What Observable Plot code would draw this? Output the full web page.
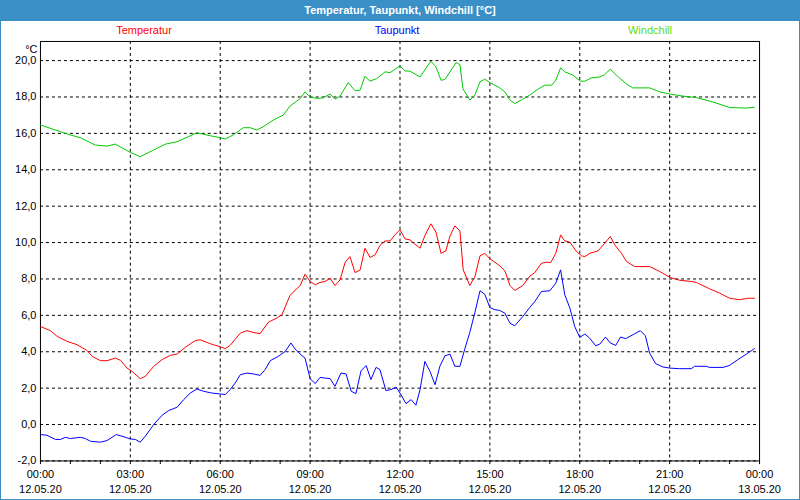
<!DOCTYPE html>
<html>
<head>
<meta charset="utf-8">
<script src="https://cdn.jsdelivr.net/npm/d3@7"></script>
<script src="https://cdn.jsdelivr.net/npm/@observablehq/plot@0.6"></script>
<style>
  html, body { margin: 0; padding: 0; background: #fff; }
  #frame { position: relative; width: 800px; height: 500px; box-sizing: border-box;
           border: 1px solid #3b8fc7; background: #fff; overflow: hidden;
           font-family: "Liberation Sans", Arial, sans-serif; }
  #title { position: absolute; left: -1px; top: -1px; width: 800px; height: 21px; background: #3b8fc7;
           color: #fff; font-weight: bold; font-size: 11px; line-height: 21px; text-align: center; }
  .leg { position: absolute; top: 23px; font-size: 11px; transform: translateX(-50%); white-space: nowrap; }
  #chart { position: absolute; left: -1px; top: 19px; }
</style>
</head>
<body>
<div id="frame">
  <div id="title"></div>
  <div id="chart"></div>
</div>
<script>
// ---- Data (hour of day, value in °C) ----
const seriesNames = ["Temperatur", "Taupunkt", "Windchill"];
const seriesColors = ["#ff0000", "#0000ff", "#00c800"];
const legendColors = ["#ff0000", "#0000ff", "#66dd00"];
const legendCenters = [144, 397, 650];
const titleText = "Temperatur, Taupunkt, Windchill [°C]";
const yUnit = "°C";

const temperatur = [
  [0,5.39],[0.33,5.16],[0.56,4.84],[0.89,4.57],[1.22,4.39],[1.56,4.06],[1.72,3.75],[2.0,3.51],
  [2.22,3.51],[2.5,3.65],[2.67,3.53],[2.89,3.1],[3.06,2.92],[3.33,2.52],[3.5,2.65],[3.78,3.2],
  [4.06,3.57],[4.33,3.8],[4.56,3.87],[4.83,4.24],[5.17,4.62],[5.33,4.66],[5.67,4.44],[6.06,4.24],
  [6.17,4.17],[6.33,4.35],[6.67,5.02],[6.89,5.16],[7.06,5.08],[7.33,4.99],[7.61,5.63],[7.89,5.85],
  [8.06,6.03],[8.33,7.1],[8.67,7.64],[8.83,8.26],[9.0,7.86],[9.17,7.68],[9.33,7.81],[9.5,7.86],
  [9.67,8.04],[9.83,7.64],[10.0,7.95],[10.17,8.92],[10.33,9.23],[10.5,8.35],[10.67,8.5],[10.83,9.69],
  [11.0,9.18],[11.17,9.33],[11.33,9.84],[11.5,10.09],[11.67,10.09],[11.83,10.42],[12.0,10.7],[12.17,10.2],
  [12.33,10.15],[12.5,9.91],[12.67,9.69],[12.83,10.38],[13.03,11.03],[13.2,10.57],[13.37,9.41],[13.53,9.54],
  [13.67,10.37],[13.83,10.92],[14.0,10.64],[14.11,8.5],[14.33,7.64],[14.5,8.13],[14.67,9.27],[14.83,9.41],
  [15.0,9.11],[15.33,8.72],[15.5,8.45],[15.67,7.64],[15.83,7.37],[16.1,7.64],[16.33,8.15],[16.5,8.35],
  [16.72,8.86],[16.89,8.92],[17.03,8.9],[17.2,9.41],[17.36,10.42],[17.5,10.09],[17.67,10.02],[17.89,9.51],
  [18.06,9.27],[18.17,9.23],[18.33,9.41],[18.61,9.54],[18.83,9.96],[19.02,10.33],[19.17,9.87],[19.39,9.41],
  [19.56,8.96],[19.83,8.68],[20.33,8.68],[20.67,8.41],[21.02,8.08],[21.33,7.93],[21.72,7.86],[21.89,7.81],
  [22.33,7.46],[22.67,7.22],[23.0,6.94],[23.33,6.86],[23.61,6.94],[23.83,6.94]
];

const taupunkt = [
  [0,-0.55],[0.22,-0.59],[0.5,-0.82],[0.67,-0.82],[0.83,-0.7],[1.0,-0.77],[1.33,-0.7],[1.5,-0.77],
  [1.67,-0.92],[2.0,-0.97],[2.22,-0.88],[2.53,-0.55],[2.72,-0.64],[3.0,-0.79],[3.17,-0.82],[3.33,-0.97],
  [3.5,-0.64],[3.78,0.0],[4.06,0.51],[4.28,0.77],[4.56,0.95],[4.78,1.37],[5.0,1.73],[5.22,1.95],
  [5.44,1.83],[5.72,1.73],[6.0,1.68],[6.17,1.65],[6.33,1.92],[6.5,2.28],[6.67,2.74],[6.89,2.83],
  [7.11,2.78],[7.33,2.7],[7.5,3.02],[7.67,3.51],[7.94,3.75],[8.17,4.02],[8.36,4.48],[8.5,4.15],
  [8.67,3.87],[8.83,3.65],[9.0,2.52],[9.17,2.25],[9.33,2.59],[9.67,2.52],[9.83,2.1],[10.03,2.83],
  [10.2,2.78],[10.37,1.83],[10.53,1.7],[10.7,2.96],[10.87,3.24],[11.03,2.47],[11.2,3.14],[11.33,3.02],
  [11.53,1.87],[11.7,1.92],[11.87,2.06],[12.03,1.65],[12.2,1.15],[12.37,1.37],[12.53,1.06],[12.67,1.92],
  [12.83,3.47],[13.0,2.92],[13.17,2.19],[13.33,3.2],[13.5,3.78],[13.67,3.87],[13.83,3.2],[14.0,3.2],
  [14.17,4.2],[14.33,5.06],[14.5,6.16],[14.67,7.35],[14.83,7.16],[15.0,6.43],[15.17,6.31],[15.33,6.27],
  [15.5,6.12],[15.67,5.57],[15.83,5.43],[16.1,5.94],[16.33,6.43],[16.5,6.76],[16.72,7.31],[17.0,7.35],
  [17.2,7.77],[17.36,8.5],[17.5,7.13],[17.67,6.4],[17.83,5.39],[18.0,4.79],[18.17,4.97],[18.33,4.75],
  [18.53,4.33],[18.67,4.42],[18.86,4.81],[19.02,4.48],[19.2,4.35],[19.36,4.81],[19.53,4.72],[19.78,4.94],
  [20.02,5.16],[20.19,4.88],[20.33,3.93],[20.53,3.35],[20.78,3.16],[21.02,3.1],[21.33,3.07],[21.72,3.07],
  [21.83,3.2],[22.22,3.2],[22.33,3.14],[22.78,3.14],[23.0,3.25],[23.28,3.57],[23.56,3.87],[23.83,4.17]
];

const windchill = [
  [0,16.46],[0.67,16.09],[1.0,15.91],[1.33,15.76],[1.83,15.36],[2.22,15.3],[2.5,15.41],[3.0,14.95],
  [3.33,14.72],[3.77,15.08],[4.17,15.41],[4.56,15.54],[5.22,16.03],[5.67,15.87],[6.0,15.76],[6.17,15.69],
  [6.43,15.91],[6.77,16.31],[7.0,16.31],[7.22,16.18],[7.43,16.36],[7.77,16.73],[8.1,17.0],[8.33,17.5],
  [8.67,17.92],[8.83,18.28],[9.0,18.0],[9.22,17.92],[9.43,17.95],[9.67,18.16],[9.83,17.88],[10.0,18.05],
  [10.27,18.79],[10.5,18.34],[10.67,18.38],[10.83,19.14],[11.0,18.87],[11.22,19.01],[11.5,19.38],[11.67,19.34],
  [12.0,19.71],[12.17,19.43],[12.33,19.42],[12.67,19.1],[13.03,19.97],[13.2,19.65],[13.37,18.92],[13.5,18.96],
  [13.87,19.89],[14.0,19.78],[14.1,18.46],[14.33,17.83],[14.5,18.1],[14.67,18.83],[14.83,18.98],[15.0,18.79],
  [15.33,18.5],[15.5,18.28],[15.67,17.83],[15.83,17.64],[16.1,17.88],[16.33,18.1],[16.56,18.38],[16.83,18.65],
  [17.06,18.65],[17.2,18.92],[17.36,19.6],[17.5,19.38],[17.77,19.2],[18.02,18.87],[18.17,18.87],[18.39,19.05],
  [18.67,19.1],[18.83,19.23],[19.02,19.53],[19.22,19.2],[19.56,18.71],[19.77,18.5],[20.33,18.5],[20.67,18.28],
  [21.02,18.16],[21.43,18.05],[21.89,17.97],[22.43,17.73],[23.0,17.42],[23.56,17.39],[23.83,17.44]
];

// ---- Axis ticks ----
const yTicks = [-2,0,2,4,6,8,10,12,14,16,18,20];
const xTickHours = [0,3,6,9,12,15,18,21,24];
const xTimeLabels = ["00:00","03:00","06:00","09:00","12:00","15:00","18:00","21:00","00:00"];
const xDateLabels = ["12.05.20","12.05.20","12.05.20","12.05.20","12.05.20","12.05.20","12.05.20","12.05.20","13.05.20"];
const xMinorHours = d3.range(0, 25);

// ---- Build ----
document.getElementById("title").textContent = titleText;
const frame = document.getElementById("frame");
seriesNames.forEach((n, i) => {
  const s = document.createElement("span");
  s.className = "leg";
  s.textContent = n;
  s.style.left = (legendCenters[i] - 1) + "px";
  s.style.color = legendColors[i];
  frame.appendChild(s);
});

const seriesData = [temperatur, taupunkt, windchill];
const xLabelRows = xTickHours.map((h, i) => ({h, t: xTimeLabels[i], d: xDateLabels[i]}));

const chart = Plot.plot({
  width: 800,
  height: 480,
  marginTop: 21,
  marginBottom: 39,
  marginLeft: 40,
  marginRight: 40,
  style: {fontFamily: "'Liberation Sans', Arial, sans-serif", fontSize: "11px", background: "transparent", color: "#000"},
  x: {type: "linear", domain: [0, 24], axis: null},
  y: {domain: [-2, 21.05], axis: null},
  marks: [
    Plot.ruleY(yTicks, {stroke: "#000", strokeDasharray: "3,3", strokeWidth: 1}),
    Plot.ruleX(xTickHours.slice(1, -1), {stroke: "#000", strokeDasharray: "3,3", strokeWidth: 1}),
    Plot.ruleX(xMinorHours, {y1: -2, y2: -2.2, stroke: "#000"}),
    Plot.frame({stroke: "#000"}),
    ...seriesData.map((data, i) => Plot.line(data, {x: d => d[0], y: d => d[1], stroke: seriesColors[i], strokeWidth: 1})),
    Plot.axisY({ticks: yTicks, tickSize: 0, tickPadding: 4, tickFormat: d => d.toFixed(1).replace(".", ","), label: null, fontSize: 11}),
    Plot.text([yUnit], {frameAnchor: "top-left", dx: -3, dy: 4, textAnchor: "end", fontSize: 11}),
    Plot.text(xLabelRows, {x: "h", y: () => -2, text: "t", dy: 14, fontSize: 11}),
    Plot.text(xLabelRows, {x: "h", y: () => -2, text: "d", dy: 29, fontSize: 11})
  ]
});
document.getElementById("chart").appendChild(chart);
</script>
</body>
</html>
